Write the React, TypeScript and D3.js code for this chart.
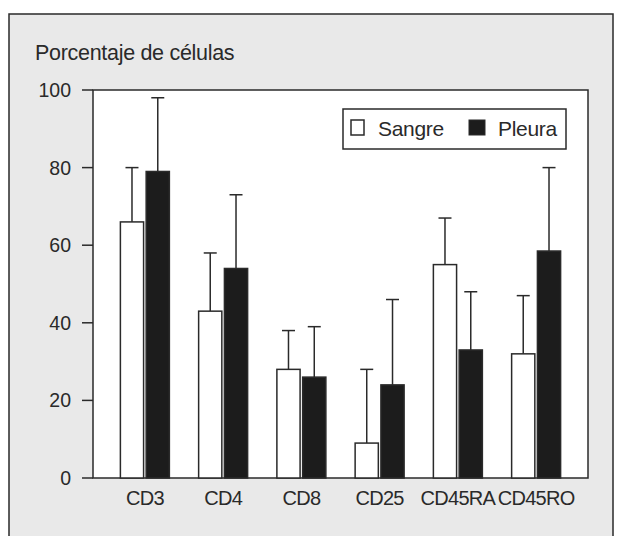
import React from "react";
import * as d3 from "d3";

const categories = ["CD3", "CD4", "CD8", "CD25", "CD45RA", "CD45RO"];
const sangre = [66, 43, 28, 9, 55, 32];
const sangreErr = [80, 58, 38, 28, 67, 47];
const pleura = [79, 54, 26, 24, 33, 58.5];
const pleuraErr = [98, 73, 39, 46, 48, 80];
const yTicks = [0, 20, 40, 60, 80, 100];
const series = ["Sangre", "Pleura"];

const W = 617;
const H = 536;
const left = 93;
const right = 588;
const top = 90;
const bottom = 478;
const font = "'Liberation Sans', Arial, sans-serif";
const ink = "#2a2a2a";

export default function App() {
  const x = d3.scaleBand<string>().domain(categories).range([left, right]).paddingInner(0.374).paddingOuter(0.35);
  const x1 = d3.scaleBand<string>().domain(series).range([0, x.bandwidth()]).paddingInner(0.1);
  const y = d3.scaleLinear().domain([0, 100]).range([bottom, top]);
  const cap = 13;

  const rows = categories.map((c, i) => [
    { key: "Sangre", v: sangre[i], e: sangreErr[i], fill: "#ffffff" },
    { key: "Pleura", v: pleura[i], e: pleuraErr[i], fill: "#1c1c1c" },
  ]);

  return (
    <svg width={W} height={H} style={{ position: "absolute", left: 0, top: 0 }} fontFamily={font}>
      <rect x={0} y={0} width={W} height={H} fill="#ffffff" />
      <rect x={9} y={14} width={604} height={530} fill="#e9e9e9" stroke={ink} strokeWidth={1.5} />
      <text x={35} y={60} fontSize={21.5} letterSpacing={-0.3} fill={ink}>Porcentaje de células</text>

      <rect x={left} y={top} width={right - left} height={bottom - top} fill="#ffffff" stroke={ink} strokeWidth={1.5} />

      {yTicks.map((t) => (
        <g key={t}>
          <line x1={left - 11} x2={left} y1={y(t)} y2={y(t)} stroke={ink} strokeWidth={1.5} />
          <text x={71} y={y(t)} dy="0.36em" textAnchor="end" fontSize={19.5} fill={ink}>{t}</text>
        </g>
      ))}

      {categories.map((c, i) => (
        <g key={c} transform={`translate(${x(c)},0)`}>
          {rows[i].map((d) => {
            const bx = x1(d.key)!;
            const cx = bx + x1.bandwidth() / 2;
            return (
              <g key={d.key}>
                <line x1={cx} x2={cx} y1={y(d.v)} y2={y(d.e)} stroke={ink} strokeWidth={1.5} />
                <line x1={cx - cap / 2} x2={cx + cap / 2} y1={y(d.e)} y2={y(d.e)} stroke={ink} strokeWidth={1.5} />
                <rect x={bx} y={y(d.v)} width={x1.bandwidth()} height={bottom - y(d.v)} fill={d.fill} stroke={ink} strokeWidth={1.5} />
              </g>
            );
          })}
          <text x={x.bandwidth() / 2} y={505} textAnchor="middle" fontSize={20} letterSpacing={-0.7} fill={ink}>{c}</text>
        </g>
      ))}

      <g>
        <rect x={343} y={109} width={223} height={40} fill="#ffffff" stroke={ink} strokeWidth={1.5} />
        <rect x={351} y={120} width={13} height={15} fill="#ffffff" stroke={ink} strokeWidth={1.5} />
        <text x={378} y={136} fontSize={21} letterSpacing={-0.3} fill={ink}>Sangre</text>
        <rect x={469} y={120} width={16} height={15} fill="#1c1c1c" stroke={ink} strokeWidth={1} />
        <text x={498} y={136} fontSize={21} letterSpacing={-0.3} fill={ink}>Pleura</text>
      </g>
    </svg>
  );
}
